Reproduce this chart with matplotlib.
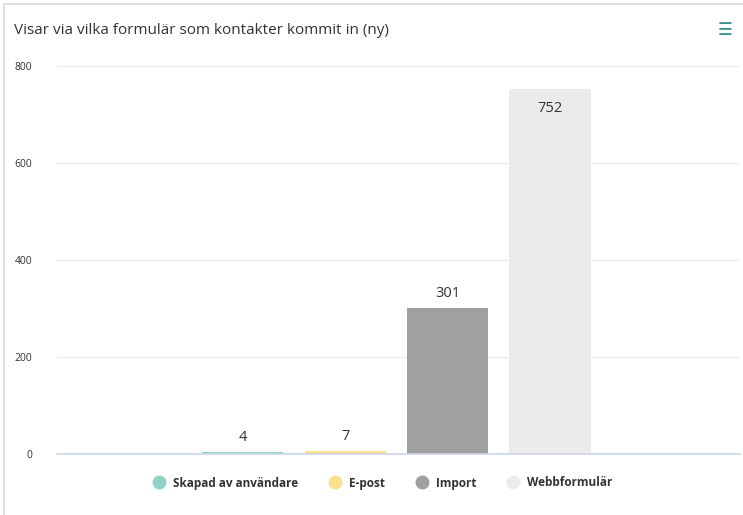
import matplotlib.pyplot as plt
from matplotlib.lines import Line2D
from matplotlib.patches import Rectangle

plt.rcParams['font.family'] = ['Open Sans', 'DejaVu Sans']

# Data
series = ['Skapad av användare', 'E-post', 'Import', 'Webbformulär']
values = [4, 7, 301, 752]
colors = ['#8fd3c8', '#fddf8a', '#a0a0a0', '#ebebeb']
yticks = [0, 200, 400, 600, 800]

W, H = 743, 515
fig = plt.figure(figsize=(W / 100, H / 100), dpi=100)

# outer card border
fig.patches.append(Rectangle((4 / W, -0.01), 1.1, 1.01 - 4 / H, transform=fig.transFigure,
                             fill=False, edgecolor='#d9d9d9', linewidth=1.2))

ax = fig.add_axes([57 / W, 61 / H, 683 / W, 388 / H])

spacing = 0.15
width = 0.119
for i, (name, val, col) in enumerate(zip(series, values, colors)):
    x = (i - 1.5) * spacing - 0.003
    ax.bar(x, val, width=width, color=col, zorder=3)
    if val > 700:
        ax.text(x, val - 24, str(val), ha='center', va='top', fontsize=10.5, color='#333333', zorder=4)
    else:
        ax.text(x, val + 14, str(val), ha='center', va='bottom', fontsize=10.5, color='#333333', zorder=4)

ax.set_xlim(-0.5, 0.5)
ax.set_ylim(0, 800)
ax.set_yticks(yticks)
ax.set_yticklabels([str(t) for t in yticks], fontsize=7.5, color='#333333')
ax.tick_params(axis='y', length=0, pad=18)
ax.set_xticks([])
ax.grid(axis='y', color='#ececec', linewidth=1, zorder=0)
for s in ['top', 'right', 'left']:
    ax.spines[s].set_visible(False)
ax.spines['bottom'].set_color('#ccd6eb')
ax.spines['bottom'].set_linewidth(1.2)
ax.spines['bottom'].set_zorder(5)

fig.text(14 / W, 1 - 30 / H, 'Visar via vilka formulär som kontakter kommit in (ny)',
         fontsize=11, color='#333333', va='center', ha='left')
fig.text(725 / W, 1 - 30 / H, '☰', fontsize=12, color='#3a8f8a', va='center', ha='center',
         family=['DejaVu Sans'])

handles = [Line2D([0], [0], marker='o', linestyle='', markersize=9, markerfacecolor=c,
                  markeredgecolor=c) for c in colors]
leg = fig.legend(handles, series, loc='center', bbox_to_anchor=(380 / W, 1 - 483 / H), ncol=4,
                 frameon=False, fontsize=8.5, handletextpad=0.2, columnspacing=2.1)
for t in leg.get_texts():
    t.set_fontweight('bold')
    t.set_color('#333333')

fig.savefig('out.png', dpi=100)
